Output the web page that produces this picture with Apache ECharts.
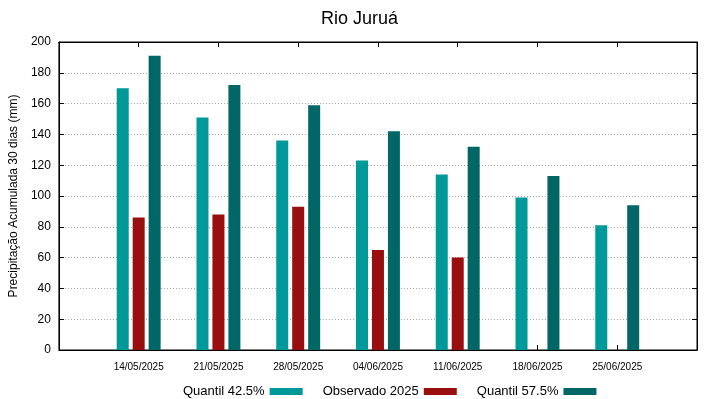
<!DOCTYPE html>
<html>
<head>
<meta charset="utf-8">
<script src="https://cdn.jsdelivr.net/npm/echarts@6/dist/echarts.min.js"></script>
<style>html,body{margin:0;padding:0;background:#fff;}#c{width:719px;height:399px;}</style>
</head>
<body>
<div id="c"></div>
<script>
var categories = ['14/05/2025','21/05/2025','28/05/2025','04/06/2025','11/06/2025','18/06/2025','25/06/2025'];
var quantil425 = [170, 151, 136, 123, 114, 99, 81];
var observado2025 = [86, 88, 93, 65, 60, null, null];
var quantil575 = [191, 172, 159, 142, 132, 113, 94];
var yTicks = [0, 20, 40, 60, 80, 100, 120, 140, 160, 180, 200];

var FONT = 'Liberation Sans, Arial, sans-serif';
function pts(arr){ return arr.map(function(v,i){ return [i, v]; }); }
function xlab(v){ return (v >= 0 && v < categories.length) ? categories[v] : ''; }

var chart = echarts.init(document.getElementById('c'));
chart.setOption({
  animation: false,
  backgroundColor: '#fff',
  title: { text: 'Rio Juruá', left: 'center', top: 5, textStyle: { fontFamily: FONT, fontSize: 18, fontWeight: 'normal', color: '#000' } },
  grid: { left: 58, top: 42, width: 639, height: 308, show: true, borderColor: '#000', borderWidth: 1 },
  legend: {
    top: 380, left: 178, align: 'right', itemWidth: 33, itemHeight: 7, itemGap: 20,
    icon: 'rect',
    textStyle: { fontFamily: FONT, fontSize: 13, color: '#000' },
    data: ['Quantil 42.5%', 'Observado 2025', 'Quantil 57.5%']
  },
  xAxis: [{
    type: 'value', min: -1, max: 7, interval: 1,
    axisLine: { show: true, onZero: false, lineStyle: { color: '#000' } },
    axisTick: { show: true, inside: true, length: 5, lineStyle: { color: '#000' } },
    splitLine: { show: false },
    axisLabel: { formatter: xlab, fontFamily: FONT, fontSize: 10, color: '#000', margin: 12, showMinLabel: false, showMaxLabel: false }
  }, {
    type: 'value', min: -1, max: 7, interval: 1, position: 'top',
    axisLine: { show: true, onZero: false, lineStyle: { color: '#000' } },
    axisTick: { show: true, inside: true, length: 5, lineStyle: { color: '#000' } },
    splitLine: { show: false }, axisLabel: { show: false }
  }],
  yAxis: [{
    type: 'value', min: yTicks[0], max: yTicks[yTicks.length-1], interval: 20,
    name: 'Precipitação Acumulada 30 dias (mm)', nameLocation: 'middle', nameGap: 34,
    nameTextStyle: { fontFamily: FONT, fontSize: 12, color: '#000' },
    axisLine: { show: true, onZero: false, lineStyle: { color: '#000' } },
    axisTick: { show: true, inside: true, length: 5, lineStyle: { color: '#000' } },
    splitLine: { show: true, lineStyle: { color: '#a0a0a0', type: [1, 2], width: 1 } },
    axisLabel: { fontFamily: FONT, fontSize: 12, color: '#000', margin: 8 }
  }, {
    type: 'value', min: yTicks[0], max: yTicks[yTicks.length-1], interval: 20, position: 'right',
    axisLine: { show: true, onZero: false, lineStyle: { color: '#000' } },
    axisTick: { show: true, inside: true, length: 5, lineStyle: { color: '#000' } },
    splitLine: { show: false }, axisLabel: { show: false }
  }],
  series: [
    { name: 'Quantil 42.5%', type: 'bar', barWidth: 12, barGap: '33%', data: pts(quantil425), itemStyle: { color: '#009999' } },
    { name: 'Observado 2025', type: 'bar', barWidth: 12, barGap: '33%', data: pts(observado2025), itemStyle: { color: '#990f0f' } },
    { name: 'Quantil 57.5%', type: 'bar', barWidth: 12, barGap: '33%', data: pts(quantil575), itemStyle: { color: '#006666' } }
  ]
});
</script>
</body>
</html>
